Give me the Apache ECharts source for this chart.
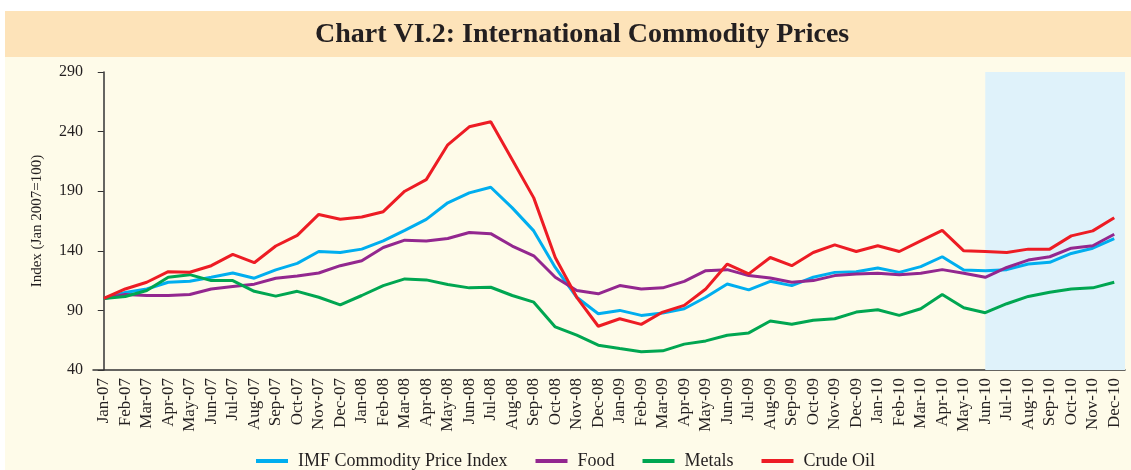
<!DOCTYPE html>
<html>
<head>
<meta charset="utf-8">
<script src="https://cdn.jsdelivr.net/npm/echarts@6/dist/echarts.min.js"></script>
<style>
  html, body { margin: 0; padding: 0; background: #fff; }
  #chart { width: 1131px; height: 470px; }
</style>
</head>
<body>
<div id="chart"></div>
<script>
// months Jan-07 .. Dec-10
var months = ['Jan-07','Feb-07','Mar-07','Apr-07','May-07','Jun-07','Jul-07','Aug-07','Sep-07','Oct-07','Nov-07','Dec-07',
  'Jan-08','Feb-08','Mar-08','Apr-08','May-08','Jun-08','Jul-08','Aug-08','Sep-08','Oct-08','Nov-08','Dec-08',
  'Jan-09','Feb-09','Mar-09','Apr-09','May-09','Jun-09','Jul-09','Aug-09','Sep-09','Oct-09','Nov-09','Dec-09',
  'Jan-10','Feb-10','Mar-10','Apr-10','May-10','Jun-10','Jul-10','Aug-10','Sep-10','Oct-10','Nov-10','Dec-10'];

var imfIndex = [100,105,108,113.6,114.4,117.8,121.4,117,124,129.4,139.4,138.6,
  141.4,148.3,157.2,166.4,180.3,188.6,193.3,176,156.7,126,101,87.2,
  90,85.8,87.8,91.4,101,112.2,107.2,114.4,110.8,117.8,121.9,122.5,
  125.6,121.9,126.7,135,123.9,123.3,124.2,128.9,130.3,137.8,142.2,150.3];

var food = [100,103.3,102.5,102.5,103.3,108,110,112,117,118.9,121.4,127.5,
  131.7,142.8,148.9,148.3,150.3,155.3,154.4,144,135.8,117.8,106.7,103.9,
  110.8,108,108.9,114.4,123.3,124.2,119.2,117.2,113.6,115,119.2,120.6,
  121.1,120,121.1,124.2,121.1,117.8,126,132.2,135,142.2,144.2,153.9];

var metals = [100,101.7,106.7,117.8,120,115,115,106,102,106,101,94.7,
  102.5,110.8,116.4,115.6,111.7,108.9,109.4,102.5,96.9,76.1,69.2,60.8,
  58,55.3,56.1,61.7,64.4,69.2,71.1,81.1,78.3,81.7,83,88.6,
  90.6,85.8,91.4,103.3,92.2,88.1,95.6,101.7,105.3,108,108.9,113.6];

var crudeOil = [100,108,113.6,122.5,122,127.5,137,130,144,153,170.5,166.4,
  168.3,172.8,190,199.7,228.9,244,248.3,216.4,184.4,134.4,101,76.7,
  83,78.3,88.6,94.2,108,128.9,120.6,134.4,127.5,138.6,145,139.4,
  144.2,139.4,148.3,157.2,140,139.4,138.6,141.4,141.4,152.5,156.7,167.8];

var shadeFrom = 'Jun-10';

var serif = '"Liberation Serif", "DejaVu Serif", serif';
var axisColor = '#333';
var textColor = '#231f20';

function lineSeries(name, data, color) {
  return {
    name: name,
    type: 'line',
    data: data,
    symbol: 'none',
    lineStyle: { width: 3, color: color },
    itemStyle: { color: color },
    z: 3
  };
}

var option = {
  backgroundColor: '#fefbe9',
  animation: false,
  graphic: [
    { type: 'rect', left: 0, top: 0, shape: { width: 1131, height: 11 }, style: { fill: '#fff' }, z: -1 },
    { type: 'rect', left: 0, top: 0, shape: { width: 5, height: 470 }, style: { fill: '#fff' }, z: -1 },
    { type: 'rect', left: 5, top: 11, shape: { width: 1126, height: 46 }, style: { fill: '#fde3b9' }, z: -1 }
  ],
  title: {
    text: 'Chart VI.2: International Commodity Prices',
    left: 310,
    top: 16,
    textStyle: { fontFamily: serif, fontWeight: 'bold', fontSize: 28, color: textColor }
  },
  legend: {
    bottom: -5,
    left: 'center',
    icon: 'rect',
    itemWidth: 32,
    itemHeight: 4,
    itemGap: 28,
    textStyle: { fontFamily: serif, fontSize: 18, color: textColor, padding: [0, 0, 0, 5] },
    data: ['IMF Commodity Price Index', 'Food', 'Metals', 'Crude Oil']
  },
  grid: { left: 93, right: 6, top: 72, bottom: 100 },
  xAxis: [{
    type: 'category',
    data: months,
    boundaryGap: true,
    axisLine: { lineStyle: { color: axisColor, width: 1.5 } },
    axisTick: { interval: 0, length: 6, lineStyle: { color: axisColor } },
    axisLabel: { interval: 0, rotate: 90, margin: 8, fontFamily: serif, fontSize: 17, color: textColor }
  }, {
    type: 'value',
    min: -0.5,
    max: months.length - 0.5,
    show: false
  }],
  yAxis: {
    type: 'value',
    min: 40,
    max: 290,
    interval: 50,
    name: 'Index (Jan 2007=100)',
    nameLocation: 'middle',
    nameGap: 48,
    nameTextStyle: { fontFamily: serif, fontSize: 15, color: textColor },
    splitLine: { show: false },
    axisLine: { show: true, lineStyle: { color: axisColor, width: 1.5 } },
    axisTick: { show: true, length: 6, lineStyle: { color: axisColor } },
    axisLabel: { fontFamily: serif, fontSize: 16, color: textColor, margin: 10 }
  },
  series: [
    {
      name: 'shade',
      type: 'line',
      xAxisIndex: 1,
      data: [],
      silent: true,
      markArea: {
        silent: true,
        itemStyle: { color: '#dff2fa' },
        data: [[{ xAxis: months.indexOf(shadeFrom) }, { xAxis: months.length - 0.5 }]]
      },
      z: 1
    },
    lineSeries('IMF Commodity Price Index', imfIndex, '#00aeef'),
    lineSeries('Food', food, '#93278f'),
    lineSeries('Metals', metals, '#00a651'),
    lineSeries('Crude Oil', crudeOil, '#ed1c24')
  ]
};

var chart = echarts.init(document.getElementById('chart'));
chart.setOption(option);
</script>
</body>
</html>
